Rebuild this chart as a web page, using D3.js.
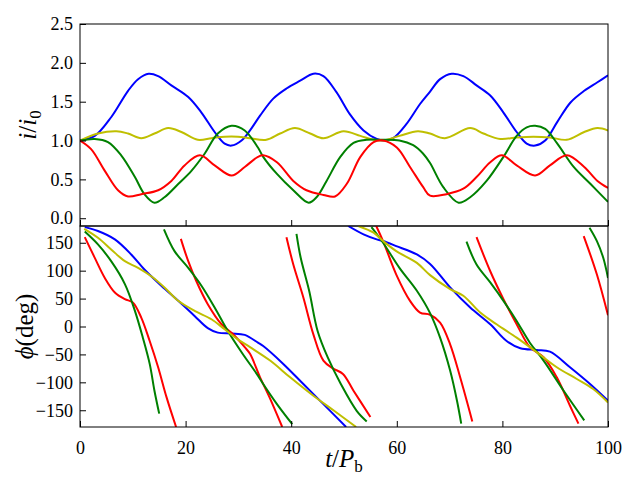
<!DOCTYPE html>
<html>
<head>
<meta charset="utf-8">
<script src="https://cdn.jsdelivr.net/npm/d3@7"></script>
<style>
  body { margin: 0; background: #fff; }
  svg { display: block; }
  .tick text { font-family: "Liberation Serif", "DejaVu Serif", serif; font-size: 18px; fill: #000; }
  .lab { font-family: "Liberation Serif", "DejaVu Serif", serif; font-size: 25px; fill: #000; }
</style>
</head>
<body>
<div id="chart"></div>
<script>
// ---- data ----
// top panel: i/i0 against t/Pb, points [t, value]
var blueRatio = [[0,1.0],[2.8,1.06],[5.9,1.30],[9.1,1.64],[11,1.79],[13,1.86],[14.8,1.83],[17.3,1.71],[20.5,1.56],
  [23,1.36],[25.5,1.11],[27.4,0.96],[28.7,0.935],[30.6,1.0],[32.2,1.13],[34.1,1.32],[36.6,1.54],[39.1,1.67],
  [41.7,1.77],[44.2,1.86],[46.1,1.83],[48.6,1.62],[51.1,1.34],[53.7,1.13],[56.2,1.02],[57.4,1.0],[59.3,1.03],
  [61.8,1.21],[64.4,1.47],[66.3,1.63],[68.2,1.79],[70.4,1.86],[72.6,1.83],[75.1,1.71],[77.7,1.58],[80.2,1.36],
  [82.7,1.11],[84.6,0.96],[86.2,0.935],[88.1,1.0],[90.4,1.24],[92.9,1.49],[95.5,1.64],[98,1.75],[100,1.84]];
var yellowRatio = [[0,1.0],[3.4,1.09],[6.9,1.12],[9.1,1.09],[11.6,1.03],[14.1,1.09],[16.7,1.16],[19.2,1.11],
  [22.3,1.01],[24.9,1.03],[27.4,1.05],[29.9,1.05],[32.2,1.03],[35.3,1.01],[37.9,1.09],[40.7,1.16],[43.6,1.09],
  [46.1,1.03],[49.9,1.12],[53.1,1.06],[55.6,1.01],[57.4,1.0],[60.5,1.06],[64,1.12],[66.3,1.09],[69.1,1.03],
  [73.9,1.16],[76.4,1.09],[79.6,1.02],[82.7,1.04],[85.9,1.05],[89,1.04],[92.2,1.01],[95.5,1.11],[98,1.16],[100,1.13]];
var greenRatio = [[0,1.0],[2.8,1.02],[5.3,0.98],[7.8,0.81],[10.4,0.53],[12.2,0.31],[14.1,0.20],[16,0.27],
  [18.6,0.44],[21.1,0.61],[23.6,0.83],[26.1,1.09],[28.7,1.19],[31.2,1.13],[33.7,0.91],[34.7,0.79],[37.3,0.57],
  [40.4,0.36],[43.3,0.20],[44.8,0.27],[46.7,0.48],[49.3,0.79],[51.8,0.97],[54.3,1.01],[57.4,1.01],[60.5,1.0],
  [63.1,0.94],[65,0.83],[66.3,0.71],[68.8,0.40],[71.7,0.20],[73.9,0.27],[77,0.48],[80.2,0.79],[82.7,1.06],
  [84.6,1.17],[86.2,1.19],[88.1,1.15],[90.4,0.96],[93.5,0.66],[96.7,0.44],[100,0.21]];
var redRatio = [[0,1.0],[2.1,0.89],[4.7,0.61],[7.2,0.36],[9.1,0.28],[11.6,0.31],[14.8,0.36],[17.3,0.48],
  [19.8,0.68],[22.7,0.81],[25.5,0.68],[28.7,0.55],[31.2,0.66],[33.7,0.79],[34.7,0.81],[37.3,0.72],[40.4,0.48],
  [42.9,0.36],[46.1,0.30],[48.3,0.28],[50.5,0.44],[53.1,0.79],[55.6,0.98],[57.4,1.0],[60,0.91],[62.5,0.66],
  [65,0.40],[66.3,0.29],[69.4,0.31],[72.6,0.38],[75.1,0.53],[77.7,0.72],[79.9,0.81],[82.7,0.68],[86.2,0.55],
  [89,0.68],[92.2,0.81],[95.5,0.66],[98,0.48],[100,0.39]];

// bottom panel: phase in degrees, each series split where it wraps from -180 to 180
var bluePhase = [
  [[0.9,178],[3.4,171],[6.6,156],[9.7,129],[12.2,102],[15.4,73],[18.6,46],[21.7,19],[24.2,-3],[26.1,-11],
   [28.7,-12.5],[31.2,-15],[33.7,-29],[34.7,-35],[38.5,-67],[42.3,-103],[46.1,-139],[50.4,-180]],
  [[50.8,180],[53.7,165],[56.2,156],[57.4,153],[59.9,144],[63.8,129],[66.3,112],[70.1,70],[73.9,34],[77.7,4],
   [80.8,-26],[83.4,-39],[86.5,-42],[89,-45],[92.8,-73],[96.6,-103],[100,-133]]];
var yellowPhase = [
  [[0.8,175],[3.4,159],[5.9,138],[8.5,117],[11,105],[13.5,90],[16,70],[18.6,46],[21.7,28],[24.9,13],
   [27.4,-5],[29.9,-23],[32.2,-37],[36,-61],[39.8,-91],[44.2,-124],[48,-150],[52.3,-180]],
  [[52.7,180],[55.6,168],[57.4,153],[59.9,135],[63.8,114],[66.3,92],[70.1,67],[72.6,55],[75.8,25],[78.9,4],
   [82.7,-20],[86.5,-46],[90.3,-73],[94.1,-94],[97.2,-112],[100,-136]]];
var greenPhase = [
  [[0.9,170],[3.4,147],[5.9,117],[8.5,76],[10.4,28],[11.9,-20],[13.2,-67],[14.1,-115],[15,-156]],
  [[15.9,174],[17.9,135],[20.5,105],[23,73],[25.5,34],[28,-8],[30.6,-46],[33.7,-88],[34.7,-103],[37.3,-139],[40.2,-175]],
  [[41,166],[41.8,123],[43.4,64],[45,-8],[46.9,-55],[49.4,-103],[52.4,-151],[54.3,-170]],
  [[55.2,178],[57.4,150],[60.5,105],[63.8,64],[66.3,24],[68.2,-20],[70.1,-79],[71.4,-133],[72.2,-174]],
  [[73.2,152],[75.1,111],[77.7,79],[80.2,46],[82.7,10],[85.2,-29],[87.8,-61],[91.6,-115],[95.5,-168]],
  [[96.5,177],[97.9,153],[99.1,123],[100,87]]];
var redPhase = [
  [[0.9,160],[2.8,123],[4.7,87],[6.6,61],[8.5,49],[10,43],[11.6,16],[13.2,-26],[14.8,-73],[16.4,-127],[18.2,-180]],
  [[19.1,157],[20.5,117],[22,82],[24.2,40],[26.8,4],[29,-14],[31.2,-37],[32.2,-49],[34.1,-91],[35.9,-127],[38.3,-180]],
  [[39.1,160],[40.4,111],[42.3,52],[44.2,-14],[46.1,-61],[47.9,-75],[49.8,-85],[51.8,-115],[55,-162]],
  [[56.1,180],[57.4,153],[59.9,93],[62.5,46],[64.4,25],[66.3,21],[68.2,7],[70.1,-32],[72,-91],[74.3,-170]],
  [[75.1,160],[77.7,99],[80.2,49],[82.7,4],[85.2,-37],[87.8,-55],[90.3,-91],[92.8,-142],[94.4,-174]],
  [[95.4,162],[97.9,93],[100,20]]];

var xTicks = [0, 20, 40, 60, 80, 100];
var ratioTicks = [0, 0.5, 1.0, 1.5, 2.0, 2.5];
var phaseTicks = [-150, -100, -50, 0, 50, 100, 150];

var colors = { b: "#0000ff", g: "#008000", r: "#ff0000", y: "#bfbf00" };

// ---- layout ----
var W = 640, H = 480;
var left = 80, right = 608;
var topA = { y0: 24, y1: 226 }, botA = { y0: 226, y1: 427 };

var svg = d3.select("#chart").append("svg").attr("width", W).attr("height", H);

var x = d3.scaleLinear().domain([0, 100]).range([left, right]);
var yR = d3.scaleLinear().domain([-0.1, 2.5]).range([topA.y1, topA.y0]);
var yP = d3.scaleLinear().domain([-180, 180]).range([botA.y1, botA.y0]);

function clip(id, a) {
  svg.append("clipPath").attr("id", id).append("rect")
    .attr("x", left).attr("y", a.y0).attr("width", right - left).attr("height", a.y1 - a.y0);
}
clip("clipTop", topA);
clip("clipBot", botA);

function minus(s) { return String(s).replace("-", "\u2212"); }

// axes: ticks pointing in, left and bottom only
function drawAxes(y, a, yTicks, yFmt, xLabels) {
  var gx = svg.append("g").attr("transform", "translate(0," + a.y1 + ")")
    .call(d3.axisBottom(x).tickValues(xTicks).tickSizeInner(-6).tickSizeOuter(0).tickPadding(9)
      .tickFormat(xLabels ? d3.format("d") : ""));
  var gy = svg.append("g").attr("transform", "translate(" + left + ",0)")
    .call(d3.axisLeft(y).tickValues(yTicks).tickSizeInner(-6).tickSizeOuter(0).tickPadding(7)
      .tickFormat(yFmt));
  [gx, gy].forEach(function(g) {
    g.select(".domain").remove();
    g.selectAll(".tick line").attr("stroke", "#000").attr("stroke-width", 1);
  });
  gx.selectAll(".tick text").attr("dy", "1.0em");
  // frame
  svg.append("rect").attr("x", left).attr("y", a.y0)
    .attr("width", right - left).attr("height", a.y1 - a.y0)
    .attr("fill", "none").attr("stroke", "#000").attr("stroke-width", 1);
}

var line = d3.line()
  .x(function(d) { return x(d[0]); })
  .curve(d3.curveCatmullRom.alpha(0.5));

// top panel
var gTop = svg.append("g").attr("clip-path", "url(#clipTop)");
[[blueRatio, colors.b], [yellowRatio, colors.y], [greenRatio, colors.g], [redRatio, colors.r]]
  .forEach(function(s) {
    gTop.append("path")
      .attr("d", line.y(function(d) { return yR(d[1]); })(s[0]))
      .attr("fill", "none").attr("stroke", s[1]).attr("stroke-width", 2);
  });
drawAxes(yR, topA, ratioTicks, d3.format(".1f"), false);

// bottom panel
var gBot = svg.append("g").attr("clip-path", "url(#clipBot)");
[[bluePhase, colors.b], [redPhase, colors.r], [greenPhase, colors.g], [yellowPhase, colors.y]]
  .forEach(function(s) {
    s[0].forEach(function(seg) {
      gBot.append("path")
        .attr("d", line.y(function(d) { return yP(d[1]); })(seg))
        .attr("fill", "none").attr("stroke", s[1]).attr("stroke-width", 2);
    });
  });
drawAxes(yP, botA, phaseTicks, function(d) { return minus(d); }, true);

// axis labels
var ly = svg.append("text").attr("class", "lab")
  .attr("transform", "translate(36," + ((topA.y0 + topA.y1) / 2) + ") rotate(-90)")
  .attr("text-anchor", "middle");
ly.append("tspan").attr("font-style", "italic").text("i");
ly.append("tspan").text("/");
ly.append("tspan").attr("font-style", "italic").text("i");
ly.append("tspan").attr("font-size", "17px").attr("dy", "5").text("0");

var lp = svg.append("text").attr("class", "lab")
  .attr("transform", "translate(33," + ((botA.y0 + botA.y1) / 2) + ") rotate(-90)")
  .attr("text-anchor", "middle");
lp.append("tspan").attr("font-style", "italic").text("\u03d5");
lp.append("tspan").text("(deg)");

var lx = svg.append("text").attr("class", "lab")
  .attr("x", (left + right) / 2).attr("y", 467)
  .attr("text-anchor", "middle");
lx.append("tspan").attr("font-style", "italic").text("t");
lx.append("tspan").text("/");
lx.append("tspan").attr("font-style", "italic").text("P");
lx.append("tspan").attr("font-size", "17px").attr("dy", "5").text("b");
</script>
</body>
</html>
